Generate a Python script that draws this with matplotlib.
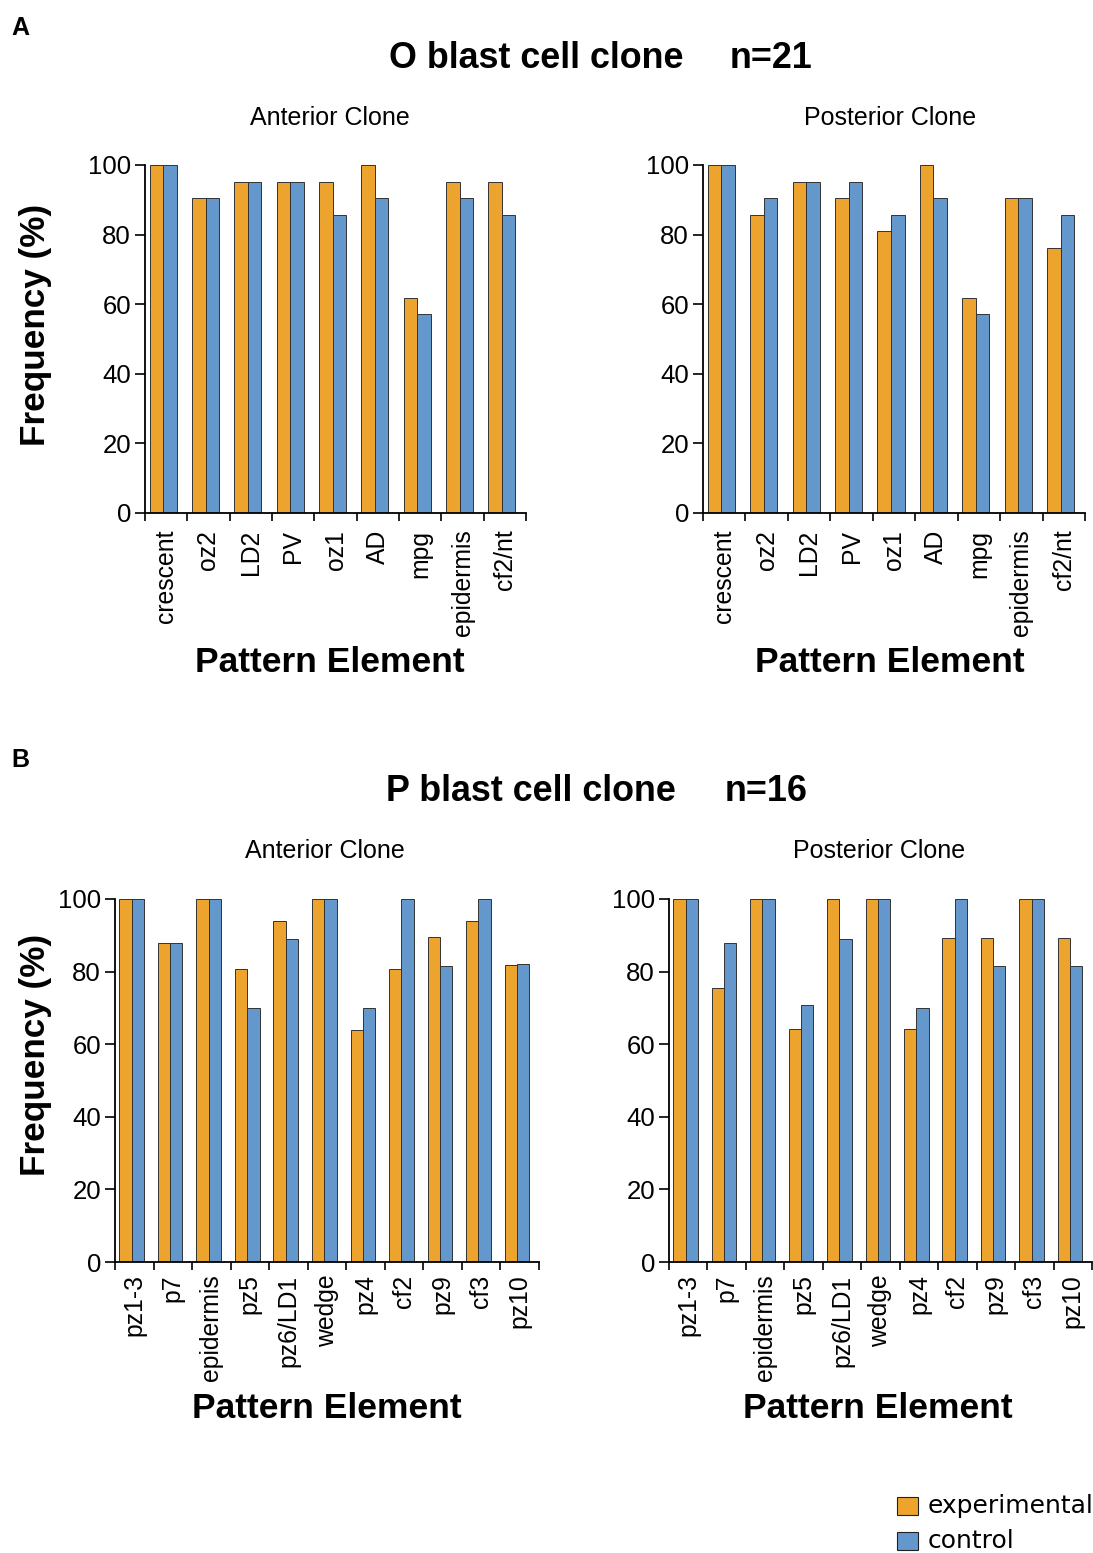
import matplotlib
matplotlib.use("Agg")
import matplotlib.pyplot as plt
import numpy as np
from matplotlib.patches import Rectangle

plt.rcParams['font.family'] = ['Liberation Sans', 'DejaVu Sans']

W, H = 1093, 1553

# ---------------- data ----------------
o_categories = ["crescent", "oz2", "LD2", "PV", "oz1", "AD", "mpg", "epidermis", "cf2/nt"]
o_ant_exp = [100, 90.5, 95.2, 95.2, 95.2, 100, 61.9, 95.2, 95.2]
o_ant_ctl = [100, 90.5, 95.2, 95.2, 85.7, 90.5, 57.1, 90.5, 85.7]
o_post_exp = [100, 85.7, 95.2, 90.5, 81.0, 100, 61.9, 90.5, 76.2]
o_post_ctl = [100, 90.5, 95.2, 95.2, 85.7, 90.5, 57.1, 90.5, 85.7]

p_categories = ["pz1-3", "p7", "epidermis", "pz5", "pz6/LD1", "wedge", "pz4", "cf2", "pz9", "cf3", "pz10"]
p_ant_exp = [100, 87.8, 100, 80.8, 94.0, 100, 64.0, 80.8, 89.5, 94.0, 81.8]
p_ant_ctl = [100, 87.8, 100, 70.0, 89.0, 100, 70.0, 100, 81.5, 100, 82.0]
p_post_exp = [100, 75.5, 100, 64.2, 100, 100, 64.2, 89.2, 89.2, 100, 89.2]
p_post_ctl = [100, 88.0, 100, 70.8, 89.0, 100, 70.0, 100, 81.5, 100, 81.5]

yticks = [0, 20, 40, 60, 80, 100]
series_names = ["experimental", "control"]

ORANGE = "#EDA42F"
BLUE = "#6497CC"

fig = plt.figure(figsize=(W / 100, H / 100), dpi=100)


def px_axes(x0, x1, y_top, y_bot):
    return fig.add_axes([x0 / W, 1 - y_bot / H, (x1 - x0) / W, (y_bot - y_top) / H])


def panel(rect, cats, exp, ctl, subtitle, sub_xy, xl_xy, xpad, yl_xy=None):
    ax = px_axes(*rect)
    n = len(cats)
    x = np.arange(n)
    bw = 0.32
    off = -0.07
    ax.bar(x + off - bw / 2, exp, width=bw, color=ORANGE, edgecolor="#333333", linewidth=0.7)
    ax.bar(x + off + bw / 2, ctl, width=bw, color=BLUE, edgecolor="#333333", linewidth=0.7)
    ax.set_xlim(-0.5, n - 0.5)
    ax.set_ylim(0, 100)
    for s in ["top", "right"]:
        ax.spines[s].set_visible(False)
    ax.spines["left"].set_linewidth(1.3)
    ax.spines["bottom"].set_linewidth(1.3)
    ax.set_yticks(yticks)
    ax.set_yticklabels([str(v) for v in yticks], fontsize=18.5)
    ax.tick_params(axis="y", direction="out", length=7, width=1.2, pad=3)
    ax.set_xticks(x)
    ax.set_xticklabels(cats, rotation=90, fontsize=17.8, va="top", ha="center")
    ax.tick_params(axis="x", which="major", length=0, pad=xpad)
    ax.set_xticks(np.arange(-0.5, n, 1.0), minor=True)
    ax.tick_params(axis="x", which="minor", direction="out", length=6, width=1.2)
    fig.text(sub_xy[0] / W, 1 - sub_xy[1] / H, subtitle, fontsize=18, ha="center", va="center")
    fig.text(xl_xy[0] / W, 1 - xl_xy[1] / H, "Pattern Element", fontsize=25.5, fontweight="bold",
             ha="center", va="center")
    if yl_xy is not None:
        fig.text(yl_xy[0] / W, 1 - yl_xy[1] / H, "Frequency (%)", fontsize=25.3, fontweight="bold",
                 rotation=90, ha="center", va="center")
    return ax


# Panel A
fig.text(20 / W, 1 - 28 / H, "A", fontsize=18, fontweight="bold", ha="center", va="center")
fig.text(536 / W, 1 - 58 / H, "O blast cell clone", fontsize=25.8, fontweight="bold", ha="center", va="center")
fig.text(771 / W, 1 - 58 / H, "n=21", fontsize=25.8, fontweight="bold", ha="center", va="center")
panel((145, 526, 165, 513), o_categories, o_ant_exp, o_ant_ctl, "Anterior Clone", (330, 118), (330, 662), 12, (36, 325))
panel((703, 1085, 165, 513), o_categories, o_post_exp, o_post_ctl, "Posterior Clone", (890, 118), (890, 662), 12)

# Panel B
fig.text(20 / W, 1 - 760 / H, "B", fontsize=18, fontweight="bold", ha="center", va="center")
fig.text(531 / W, 1 - 791 / H, "P blast cell clone", fontsize=25.8, fontweight="bold", ha="center", va="center")
fig.text(766 / W, 1 - 791 / H, "n=16", fontsize=25.8, fontweight="bold", ha="center", va="center")
panel((115, 539, 899, 1262), p_categories, p_ant_exp, p_ant_ctl, "Anterior Clone", (325, 851), (327, 1408), 9, (36, 1055))
panel((669, 1092, 899, 1262), p_categories, p_post_exp, p_post_ctl, "Posterior Clone", (879, 851), (878, 1408), 9)

# Legend
for i, (name, col) in enumerate(zip(series_names, [ORANGE, BLUE])):
    yc = 1506 + i * 35
    fig.patches.append(Rectangle((897 / W, 1 - (yc + 9) / H), 21 / W, 18 / H, transform=fig.transFigure,
                                 facecolor=col, edgecolor="#222222", linewidth=0.8))
    fig.text(928 / W, 1 - yc / H, name, fontsize=18, family=["DejaVu Sans"], ha="left", va="center")

fig.savefig("out.png", dpi=100)
